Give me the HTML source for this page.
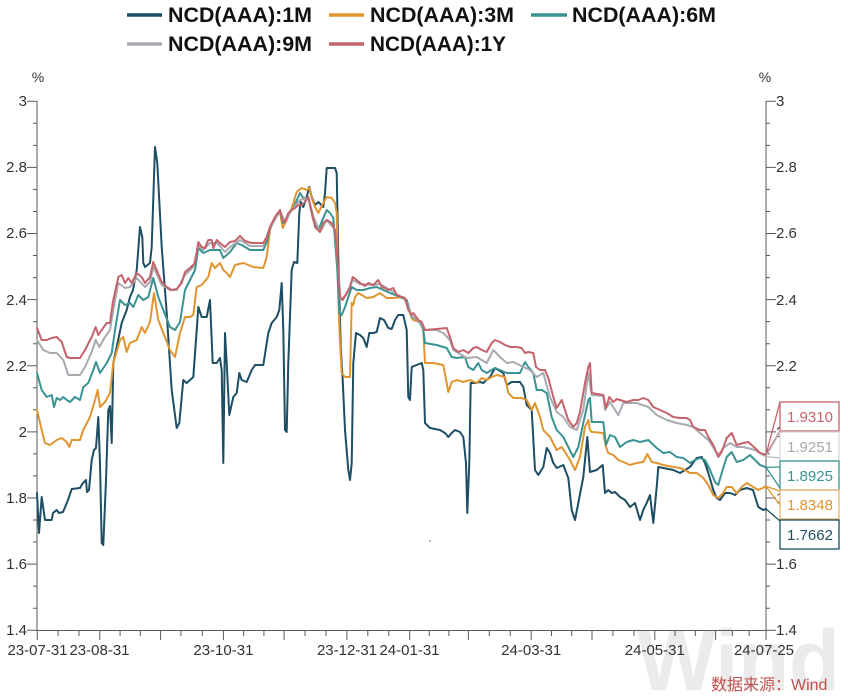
<!DOCTYPE html>
<html><head><meta charset="utf-8"><style>
html,body{margin:0;padding:0;background:#fff;}
svg{display:block;}
text{font-family:"Liberation Sans","Noto Sans CJK SC",sans-serif;}
</style></head><body>
<svg width="848" height="696" viewBox="0 0 848 696" xmlns="http://www.w3.org/2000/svg">
<rect width="848" height="696" fill="#fff"/>
<!-- watermark -->
<text x="637" y="690" font-size="86" font-weight="bold" fill="#ebebeb" textLength="203" lengthAdjust="spacingAndGlyphs">Wind</text>

<!-- legend -->
<g font-weight="bold" font-size="21" fill="#111">
<line x1="127" y1="15" x2="162" y2="15" stroke="#1d4e63" stroke-width="3.5"/>
<text x="168" y="22" textLength="144" lengthAdjust="spacingAndGlyphs">NCD(AAA):1M</text>
<line x1="329" y1="15" x2="364" y2="15" stroke="#e0952f" stroke-width="3.5"/>
<text x="370" y="22" textLength="144" lengthAdjust="spacingAndGlyphs">NCD(AAA):3M</text>
<line x1="531" y1="15" x2="567" y2="15" stroke="#3a9393" stroke-width="3.5"/>
<text x="572" y="22" textLength="144" lengthAdjust="spacingAndGlyphs">NCD(AAA):6M</text>
<line x1="127" y1="44" x2="162" y2="44" stroke="#a7aab0" stroke-width="3.5"/>
<text x="168" y="51" textLength="144" lengthAdjust="spacingAndGlyphs">NCD(AAA):9M</text>
<line x1="329" y1="44" x2="364" y2="44" stroke="#c4636b" stroke-width="3.5"/>
<text x="370" y="51" textLength="136" lengthAdjust="spacingAndGlyphs">NCD(AAA):1Y</text>
</g>

<!-- axes -->
<g stroke="#5a5a5a" stroke-width="1" fill="none">
<line x1="37" y1="101" x2="37" y2="630.5"/>
<line x1="766" y1="101" x2="766" y2="630.5"/>
<line x1="37" y1="630.5" x2="766" y2="630.5"/>
<!-- left y ticks -->
<path d="M27 101.3H37M27 167.4H37M27 233.5H37M27 299.6H37M27 365.8H37M27 431.9H37M27 498H37M27 564.1H37M27 630.3H37
M33 123.3H37M33 145.4H37M33 189.4H37M33 211.5H37M33 255.5H37M33 277.6H37M33 321.6H37M33 343.7H37M33 387.8H37M33 409.8H37M33 453.9H37M33 475.9H37M33 520H37M33 542H37M33 586.1H37M33 608.2H37"/>
<!-- right y ticks -->
<path d="M766 101.3H776M766 167.4H776M766 233.5H776M766 299.6H776M766 365.8H776M766 431.9H776M766 498H776M766 564.1H776M766 630.3H776
M766 123.3H770M766 145.4H770M766 189.4H770M766 211.5H770M766 255.5H770M766 277.6H770M766 321.6H770M766 343.7H770M766 387.8H770M766 409.8H770M766 453.9H770M766 475.9H770M766 520H770M766 542H770M766 586.1H770M766 608.2H770"/>
<!-- x ticks major -->
<path d="M37.3 630V640M99.8 630V640M160.6 630V640M223.4 630V640M284.1 630V640M346.9 630V640M409.7 630V640M468.4 630V640M531.2 630V640M592 630V640M654.8 630V640M715.6 630V640M766 630V640"/>
<!-- x ticks minor -->
<path d="M58.1 630V636M79 630V636M120.1 630V636M140.3 630V636M180.9 630V636M202.3 630V636M243.6 630V636M263.9 630V636M305 630V636M326 630V636M367.8 630V636M388.8 630V636M429.3 630V636M448.9 630V636M489.3 630V636M510.3 630V636M551.5 630V636M571.7 630V636M612.9 630V636M633.9 630V636M675.1 630V636M695.3 630V636M732.4 630V636M749.2 630V636"/>
</g>

<!-- y labels -->
<g font-size="15" fill="#333" text-anchor="end">
<text x="27" y="106">3</text>
<text x="27" y="172">2.8</text>
<text x="27" y="238">2.6</text>
<text x="27" y="305">2.4</text>
<text x="27" y="371">2.2</text>
<text x="27" y="437">2</text>
<text x="27" y="503">1.8</text>
<text x="27" y="569">1.6</text>
<text x="27" y="635">1.4</text>
</g>
<g font-size="15" fill="#333" text-anchor="start">
<text x="776" y="106">3</text>
<text x="776" y="172">2.8</text>
<text x="776" y="238">2.6</text>
<text x="776" y="305">2.4</text>
<text x="776" y="371">2.2</text>
<text x="776" y="437">2</text>
<text x="776" y="503">1.8</text>
<text x="776" y="569">1.6</text>
<text x="776" y="635">1.4</text>
</g>
<text x="38" y="82" font-size="14" fill="#333" text-anchor="middle">%</text>
<text x="765" y="82" font-size="14" fill="#333" text-anchor="middle">%</text>

<!-- x labels -->
<g font-size="15" fill="#333" text-anchor="middle">
<text x="37.5" y="655">23-07-31</text>
<text x="99.5" y="655">23-08-31</text>
<text x="223.4" y="655">23-10-31</text>
<text x="347" y="655">23-12-31</text>
<text x="409.5" y="655">24-01-31</text>
<text x="531.2" y="655">24-03-31</text>
<text x="654.8" y="655">24-05-31</text>
<text x="764" y="655">24-07-25</text>
</g>

<circle cx="430" cy="541" r="0.8" fill="#777"/>

<!-- series -->
<g fill="none" stroke-width="2" stroke-linejoin="round" stroke-linecap="round">
<polyline stroke="#1d4e63" points="37,493 39,533 41.7,497 45,520 51.7,520 53,513 56.7,510 59,513 63,512 68,500 71.7,489 80,488 83,483 86,480 87,492 89,490 91.7,460 94,450 96,448 98.3,417 100,463 101.7,543 103.3,545 106,480 108.3,410 110,406 111.7,443 113.3,363 116.7,347 121.7,323 126.7,310 130,297 133,290 136.7,270 140,227 142.3,237 143.3,263 145,267 150,263 151.7,247 155,147 157.3,163 161.7,247 166.7,313 171.7,390 176.7,428 179.3,423 183.3,380 186.7,383 193.3,377 196.7,330 198.3,307 201.7,317 206.7,317 210,300 212.7,363 216.7,363 220,358 221.7,370 223.3,463 225,333 226.7,363 229.3,415 233.3,397 236.7,393 239.3,373 241.7,380 246.7,382 251.7,370 255,365 263.3,365 268.3,333 271.7,323 276.7,317 279.3,310 281.7,283 283.3,330 285,430 286.7,432 288.3,363 291.7,270 294,262 297.3,263 299.3,213 300.7,202 303.3,207 306.7,197 309.3,187 311.7,197 315,205 318.3,202 323.3,207 325,193 326.7,168 335,168 336.7,173 338.3,257 340.7,347 342.7,380 345,430 348.3,470 350,480 351.7,463 353.3,363 356,333 360,335 363.3,338 366.7,347 369.3,333 373.3,333 376.7,332 380,318 384,320 388.3,328 391.7,329 395,320 398.3,315 403.3,315 406.7,330 408.3,397 410,400 411.7,367 416.7,365 421.7,363 423.3,370 425,423 430,428 440,430 445,433 448.3,437 451.7,433 455,430 460,432 463.3,437 466,463 467.3,513 469.3,463 470.7,383 475,383 480,382 483.3,383 490,377 495,368 498.3,370 503.3,373 506.7,385 511.7,382 520,382 523.3,387 526.7,405 531.7,410 535,470 538.3,475 543.3,467 546.7,448 550,453 553.3,463 556.7,468 563.3,465 568.3,478 571.7,510 575,520 578.3,503 583.3,477 587.3,437 590,472 596.7,470 602.7,465 605,493 608.3,490 611.7,493 615,492 620,497 625,500 630,507 635,503 640,520 643.3,510 646.7,503 650,495 653.3,523 656.7,487 658.3,467 663.3,468 673.3,470 680,473 685,470 690,467 696.7,458 701.7,457 705,463 708.3,473 713.3,490 716.7,498 720,500 725,493 730,493 735,495 740,490 746.7,488 753,490 758.3,507 763.3,510 766,509"/>
<polyline stroke="#e0952f" points="37,410 41.7,430 45,443 50,445 56.7,440 61.7,438 66.7,442 69.3,447 71.7,440 80,440 83.3,430 90,417 95,400 97.7,390 100,407 105,402 110,393 113.3,363 120,340 123.3,337 126.7,352 130,343 136.7,340 141.7,327 145,333 150,322 154,293 158.3,320 163.3,333 170,350 175,357 180,333 185,317 190,317 193.3,315 196.7,287 201.7,285 208.3,277 211.7,263 215,268 220,263 223.3,270 226.7,273 230,277 235,265 243.3,263 253.3,267 263.3,268 266.7,257 270,230 275,217 280,212 282.7,228 286.7,220 291.7,208 296.7,192 301.7,188 306.7,190 309.3,188 311.7,198 315,207 318.3,213 323.3,203 326.7,197 331.7,198 335,203 336.7,213 338.3,297 340,343 341.7,373 345,377 350,377 351.7,303 353.3,305 355,297 358.3,293 361.7,295 366.7,298 373.3,297 380,293 386.7,298 393.3,298 403.3,297 406.7,303 411.7,318 413.3,320 420,322 423.3,330 425,363 433.3,363 443.3,365 446.7,383 448.3,392 451.7,382 456.7,380 463.3,382 470,380 476.7,383 481.7,378 486.7,380 491.7,377 496.7,375 505,377 508.3,393 513.3,398 521.7,398 526.7,400 531.7,410 535,403 540,417 543.3,430 550,437 556.7,450 561.7,447 565,452 570,460 575,470 580,457 585,427 588.3,420 590,430 591.7,432 603.3,433 606,447 608.3,453 613.3,455 618.3,460 623.3,462 630,465 636.7,463 643.3,462 647.3,454 651.7,462 656.7,463 663.3,465 673.3,467 680,468 685,470 690,473 696.7,473 703.3,478 708.3,485 713.3,495 718.3,498 723.3,493 726.7,487 731.7,487 736.7,493 741.7,487 746.7,483 753.3,487 758.3,490 766,486.4"/>
<polyline stroke="#3a9393" points="37,373 41.7,390 46.7,397 51.7,395 54,407 56.7,398 60,400 63.3,397 66.7,400 70,402 75,397 80,400 83.3,387 88.3,383 93.3,370 96,362 100,373 106.7,363 111.7,353 115,330 120,300 125,305 130,303 133.3,307 138.3,295 143.3,300 148.3,297 153.3,278 158.3,297 163.3,310 170,327 175,330 180,322 185,290 190,280 195,270 198.3,248 203.3,253 210,250 216.7,250 220,250 223.3,258 226.7,255 230,252 236.7,243 241.7,245 250,250 263.3,250 266.7,242 270,228 275,218 280,212 283.3,223 288.3,215 293.3,208 300,193 303.3,198 308.3,198 313.3,220 318.3,230 323.3,218 326.7,210 330,213 333.3,218 337.3,270 339.3,313 341.7,315 345,307 348.3,297 351.7,287 356.7,290 363.3,290 370,288 376.7,287 383.3,290 390,293 400,297 406.7,300 411.7,317 418,320 423,328 425,343 436.7,345 446.7,348 451.7,357 456.7,358 465,357 468.3,367 473.3,370 478.3,363 481.7,370 486.7,373 495,368 500,370 506.7,373 520,373 525,362 528.3,367 533.3,373 536.7,390 541.7,390 546.7,393 551.7,417 556.7,430 563.3,437 568.3,447 573.3,457 578.3,447 583.3,423 588.3,400 590,398 591.7,422 603.3,422 606,445 610,435 615,437 620,447 626.7,442 633.3,440 640,442 648.3,440 656.7,448 663.3,453 670,452 676.7,457 683.3,458 690,463 695,460 700,458 705,460 710,470 715,482 718.3,485 721.7,473 726.7,457 731.7,452 736.7,462 743.3,460 750,455 755,460 760,465 766,467.4"/>
<polyline stroke="#a7aab0" points="37,340 43.3,350 50,353 56.7,353 63.3,360 68.3,375 80,375 85,367 91.7,352 95.7,340 99.3,347 105,337 110,330 113.3,310 118.3,283 125,288 130,287 136.7,278 145,287 150,282 153.3,267 161.7,285 170,290 176.7,290 185,275 193.3,267 198.3,245 203.3,250 210,243 216.7,243 220,246 225,252 230,247 240,240 250,246 263.3,246 270,228 280,211 285,222 291.7,210 300,200 308.3,198 313.3,216 320,232 326.7,220 335,230 338.3,272 340.7,300 346.7,294 352.7,280 360,284 373.3,285 380,284 390,290 400,296 405,299 411.7,316 420,322 425,330 436.7,330 443.3,333 450,340 453.3,350 466.7,358 476.7,357 486.7,363 493.3,350 500,357 506.7,363 513.3,362 523.3,367 530,370 536.7,377 543.3,373 550,397 556.7,412 563.3,417 570,427 576.7,430 583.3,410 588.3,373 591.7,395 603.3,396 605,410 610,402 618.3,415 623.3,403 636.7,403 648.3,407 656.7,415 666.7,420 676.7,423 686.7,425 693.3,427 700,433 708.3,440 718.3,455 723.3,448 730,443 736.7,447 743.3,447 755,450 766,456.6"/>
<polyline stroke="#c4636b" points="37,328 41.7,340 46.7,340 51.7,338 56.7,337 61.7,342 66.7,357 70,358 80,358 85,350 91.7,337 95.7,327 98.3,335 101.7,330 106.7,323 110,323 112.7,303 118.3,277 121.7,275 125,283 128.3,278 131.7,283 136.7,273 141.7,277 145,283 150,277 153.3,262 156.7,270 161.7,282 166.7,287 171.7,290 176.7,289 181.7,283 185,272 190,268 195,263 198.3,242 201.7,247 205,248 208.3,240 211.7,240 213.3,248 216.7,240 220,243 225,247 230,242 235,241 240,236 245,241 251.7,243 256.7,243 263.3,243 266.7,237 270,227 275,217 280,210 282.7,220 285,222 288.3,213 291.7,210 295,208 298.3,205 301.7,205 305,202 308.3,197 311.7,212 315,227 320,232 323.3,223 326.7,220 331.7,223 335,230 336.7,250 338.3,270 340,297 342.7,300 346.7,293 350,287 352.7,277 356.7,280 360,283 365,286 368.3,283 373.3,285 378.3,280 381.7,287 385,288 388.3,290 393.3,288 396.7,295 401.7,297 405,298 408.3,310 411.7,315 413.3,313 418.3,320 421.7,322 425,330 436.7,329 446.7,328 450,337 453.3,348 458.3,352 463.3,350 468.3,353 473.3,348 476.7,347 481.7,350 486.7,352 491.7,343 495,340 500,342 505,345 510,347 516.7,347 521.7,348 525,353 528.3,352 533.3,353 536,367 540,370 545,370 548.3,378 553.3,397 556.7,408 561.7,400 565,410 568.3,420 573.3,427 576.7,423 580,412 585,383 588.3,367 590,363 591.7,393 603.3,395 606,408 609.3,397 613.3,402 616.7,399 620,400 626.7,402 633.3,400 638.3,400 643.3,398 648.3,400 653.3,407 660,410 666.7,413 673.3,417 680,418 686.7,418 690,420 693.3,427 700,430 705,430 708.3,437 713.3,445 718.3,457 721.7,452 726.7,438 731.7,433 736.7,445 743.3,443 748.3,442 755,448 760,453 766,454.7"/>
</g>

<!-- value callouts -->
<g fill="none" stroke-width="1.3">
<polyline stroke="#c4636b" points="780,402 766,454.7 780,431"/>
<polyline stroke="#b8bbc0" points="780,432 766,456.6 780,458"/>
<polyline stroke="#3a9393" points="780,467 766,467.4 780,488"/>
<polyline stroke="#e0952f" points="780,491 766,486.4 780,505"/>
<polyline stroke="#1d4e63" points="780,521 766,509 780,521"/>
</g>
<g stroke-width="1.3">
<rect x="780" y="402" width="59" height="29" fill="#fff" stroke="#c4636b"/>
<rect x="780" y="432" width="59" height="29" fill="#fff" stroke="#d6d8db"/>
<rect x="780" y="461" width="59" height="29" fill="#fff" stroke="#3a9393"/>
<rect x="780" y="490" width="59" height="29" fill="#fff" stroke="#e6b36e"/>
<rect x="780" y="520" width="59" height="29" fill="#fff" stroke="#1d4e63"/>
</g>
<g font-size="15" text-anchor="middle">
<text x="810" y="422" fill="#c4636b">1.9310</text>
<text x="810" y="452" fill="#a7aab0">1.9251</text>
<text x="810" y="481" fill="#3a9393">1.8925</text>
<text x="810" y="510" fill="#e0952f">1.8348</text>
<text x="810" y="540" fill="#1d4e63">1.7662</text>
</g>

<!-- source -->
<text x="711" y="690" font-size="16" fill="#c0504d" font-family="'Liberation Sans','Noto Sans CJK SC',sans-serif">数据来源：Wind</text>
</svg>
</body></html>
